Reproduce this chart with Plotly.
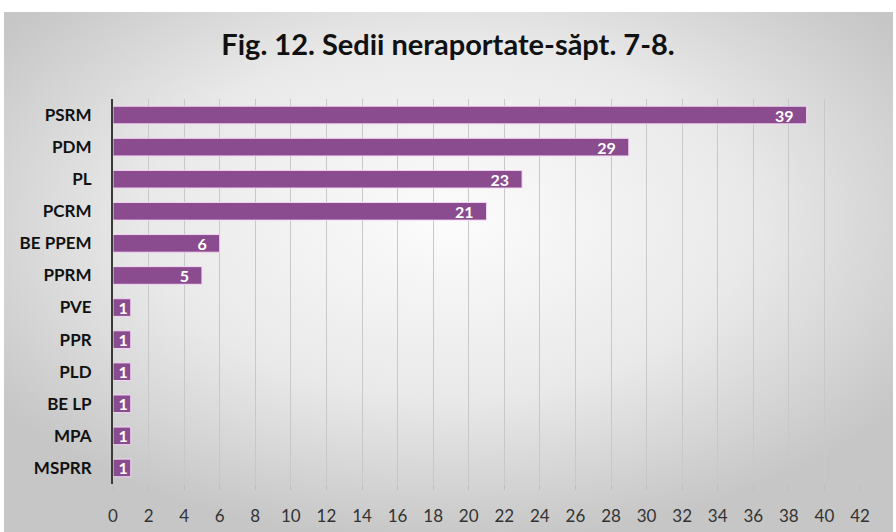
import plotly.graph_objects as go
import base64

categories = ["PSRM", "PDM", "PL", "PCRM", "BE PPEM", "PPRM", "PVE", "PPR", "PLD", "BE LP", "MPA", "MSPRR"]
values = [39, 29, 23, 21, 6, 5, 1, 1, 1, 1, 1, 1]
x_ticks = list(range(0, 43, 2))
title_text = "Fig. 12. Sedii neraportate-săpt. 7-8."

W, H = 896, 532
L, R, T, B = 113, 36, 99, 48
pw, ph = W - L - R, H - T - B

svg = f'''<svg xmlns="http://www.w3.org/2000/svg" width="889" height="520" preserveAspectRatio="none">
<defs><radialGradient id="g" cx="50%" cy="40%" r="62%" fx="50%" fy="40%">
<stop offset="0%" stop-color="#fcfcfc"/><stop offset="55%" stop-color="#e9e9e9"/><stop offset="100%" stop-color="#c6c6c6"/>
</radialGradient></defs>
<rect width="889" height="520" fill="url(#g)"/></svg>'''
src = "data:image/svg+xml;base64," + base64.b64encode(svg.encode()).decode()

labels = [f"{v}\u2002\u2009" if v >= 5 else str(v) for v in values]

fig = go.Figure(go.Bar(
    y=categories, x=values, orientation="h",
    marker=dict(color="#8b4b8f", line=dict(color="#f3d6f3", width=1)),
    text=labels, textposition="inside", insidetextanchor="end", textangle=0,
    constraintext="none", cliponaxis=False, hoverinfo="skip",
    textfont=dict(family="Lato", size=16, color="white", weight="bold"),
))

fig.update_layout(
    width=W, height=H,
    margin=dict(l=L, r=R, t=T, b=B, autoexpand=False),
    paper_bgcolor="white", plot_bgcolor="rgba(0,0,0,0)",
    bargap=0.45, showlegend=False,
    title=dict(text=title_text, x=0.5, xref="container", xanchor="center", y=1 - 45 / H, yanchor="middle",
               font=dict(family="Lato", size=29, color="#111111", weight="bold")),
    images=[dict(source=src, xref="paper", yref="paper",
                 x=(4 - L) / pw, y=(H - B - 12) / ph, sizex=(893 - 4) / pw, sizey=(H - 12) / ph,
                 xanchor="left", yanchor="top", sizing="stretch", layer="below")],
    xaxis=dict(range=[0, 42], tickvals=x_ticks, showgrid=True, gridcolor="#c8c8c8", gridwidth=1,
               zeroline=False, showline=False, ticks="outside", ticklen=5, tickcolor="#bdbdbd",
               ticklabelstandoff=12, tickfont=dict(family="Lato", size=17, color="#333333")),
    yaxis=dict(autorange="reversed", showgrid=False, zeroline=False, showline=True, linecolor="#3a3a3a",
               linewidth=2, ticks="", ticklabelstandoff=16,
               tickfont=dict(family="Lato", size=17, color="#111111", weight="bold")),
)

fig.write_html("out.html", config={"displayModeBar": False},
               post_script="document.body.style.margin='0px';")
